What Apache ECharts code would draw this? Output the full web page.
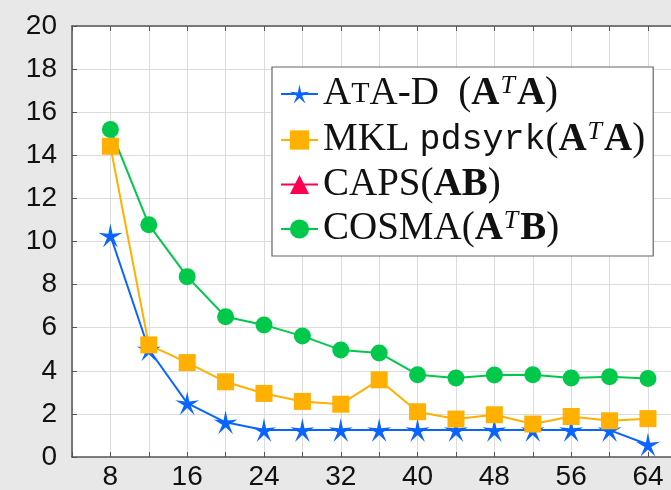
<!DOCTYPE html>
<html>
<head>
<meta charset="utf-8">
<script src="https://cdn.jsdelivr.net/npm/echarts@6/dist/echarts.min.js"></script>
<style>
html,body{margin:0;padding:0;background:#e8e8e8;}
#chart{width:671px;height:490px;}
</style>
</head>
<body>
<div id="chart"></div>
<script>
// ---- data ----
const xValues = [8, 12, 16, 20, 24, 28, 32, 36, 40, 44, 48, 52, 56, 60, 64];
const ataD  = [10.28, 5.0, 2.5, 1.61, 1.25, 1.25, 1.25, 1.25, 1.25, 1.25, 1.25, 1.25, 1.25, 1.25, 0.58];
const mkl   = [14.42, 5.2, 4.38, 3.49, 2.95, 2.58, 2.45, 3.58, 2.1, 1.76, 1.96, 1.53, 1.88, 1.68, 1.78];
const caps  = [];
const cosma = [15.2, 10.78, 8.37, 6.51, 6.13, 5.61, 4.97, 4.83, 3.82, 3.67, 3.8, 3.82, 3.67, 3.72, 3.64];
const xTickLabels = [8, 16, 24, 32, 40, 48, 56, 64];
const yTickLabels = [0, 2, 4, 6, 8, 10, 12, 14, 16, 18, 20];
const seriesNames = ['AtA-D', 'MKL', 'CAPS', 'COSMA'];

// thin 5-point star symbol
function starPath() {
  const pts = [];
  for (let i = 0; i < 10; i++) {
    const r = i % 2 === 0 ? 1 : 0.28;
    const a = -Math.PI / 2 + i * Math.PI / 5;
    pts.push((r * Math.cos(a)).toFixed(3) + ',' + (r * Math.sin(a)).toFixed(3));
  }
  return 'path://M' + pts.join('L') + 'Z';
}
const STAR = starPath();

const colors = { 'AtA-D': '#0a64ff', 'MKL': '#ffb000', 'CAPS': '#ff0050', 'COSMA': '#00c84b' };

function pairs(ys) { return ys.map((y, i) => [xValues[i], y]); }

const legendText = {
  'AtA-D': '{r|A}{sc|T}{r|A-D  (}{b|A}{sup|T}{b|A}{r|)}',
  'MKL':   '{r|MKL }{tt|pdsyrk}{r|(}{b|A}{sup|T}{b|A}{r|)}',
  'CAPS':  '{r|CAPS(}{b|AB}{r|)}',
  'COSMA': '{r|COSMA(}{b|A}{sup|T}{b|B}{r|)}'
};

const serif = '"Liberation Serif", "DejaVu Serif", serif';
const chart = echarts.init(document.getElementById('chart'), null, { renderer: 'canvas' });

function mkSeries(name, ys, symbol, size) {
  return {
    name: name,
    type: 'line',
    data: pairs(ys),
    symbol: symbol,
    symbolSize: size,
    showSymbol: true,
    animation: false,
    lineStyle: { color: colors[name], width: 2 },
    itemStyle: { color: colors[name], borderWidth: 0 },
    emphasis: { disabled: true }
  };
}

const axisLine = { show: true, lineStyle: { color: '#555', width: 1.5 } };
const axisTick = { show: true, inside: true, length: 5, lineStyle: { color: '#555', width: 1 } };

chart.setOption({
  backgroundColor: '#e8e8e8',
  animation: false,
  grid: { left: 72, top: 26, right: 0, bottom: 33, outerBoundsMode: 'none', containLabel: false,
          show: true, backgroundColor: '#ffffff', borderWidth: 0 },
  xAxis: [{
    type: 'value', min: 4, max: 66.4, interval: 4,
    axisLine: axisLine, axisTick: axisTick,
    splitLine: { show: true, lineStyle: { color: '#dcdcdc', width: 1 } },
    axisLabel: {
      margin: 6, color: '#111', fontSize: 28, fontFamily: '"Liberation Sans", Arial, sans-serif',
      showMaxLabel: false,
      formatter: v => xTickLabels.includes(v) ? String(v) : ''
    }
  }, {
    type: 'value', position: 'top', min: 4, max: 66.4, interval: 4,
    axisLine: axisLine, axisTick: axisTick, splitLine: { show: false }, axisLabel: { show: false }
  }],
  yAxis: [{
    type: 'value', min: 0, max: 20, interval: 2,
    axisLine: axisLine, axisTick: axisTick,
    splitLine: { show: true, lineStyle: { color: '#dcdcdc', width: 1 } },
    axisLabel: {
      margin: 15, color: '#111', fontSize: 28, fontFamily: '"Liberation Sans", Arial, sans-serif',
      formatter: v => yTickLabels.includes(v) ? String(v) : ''
    }
  }],
  legend: {
    orient: 'vertical',
    left: 272, top: 67,
    padding: [6, 8, 6, 8],
    itemGap: 4,
    itemWidth: 37, itemHeight: 24,
    backgroundColor: '#ffffff',
    borderColor: '#666', borderWidth: 1.2, borderRadius: 0,
    data: seriesNames,
    formatter: name => legendText[name],
    textStyle: {
      color: '#111',
      rich: {
        r:  { fontFamily: serif, fontSize: 39, lineHeight: 36, color: '#111' },
        sc: { fontFamily: serif, fontSize: 30, lineHeight: 36, color: '#111' },
        b:  { fontFamily: serif, fontSize: 39, fontWeight: 'bold', lineHeight: 36, color: '#111' },
        sup:{ fontFamily: serif, fontSize: 26, fontStyle: 'italic', lineHeight: 20, color: '#111', padding: [0, 2, 16, 1] },
        tt: { fontFamily: '"Liberation Mono", "DejaVu Sans Mono", monospace', fontSize: 35, lineHeight: 36, color: '#111' }
      }
    }
  },
  series: [
    mkSeries('AtA-D', ataD, STAR, 24),
    mkSeries('MKL', mkl, 'rect', 17),
    mkSeries('CAPS', caps, 'triangle', 18),
    mkSeries('COSMA', cosma, 'circle', 17)
  ]
});
</script>
</body>
</html>
